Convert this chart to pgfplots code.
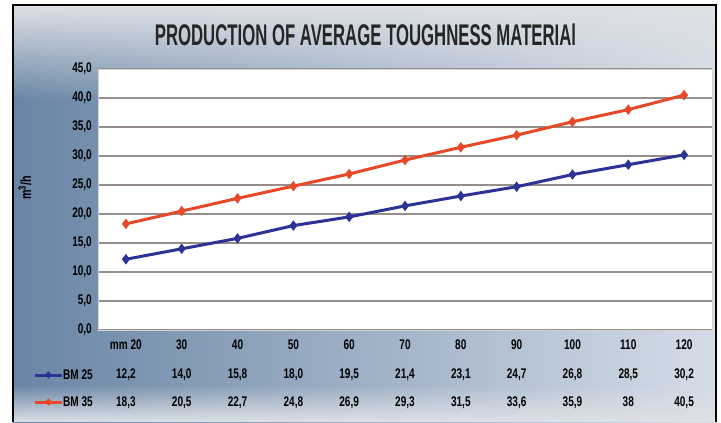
\documentclass[border=0pt]{standalone}
\usepackage{pgfplots}
\pgfplotsset{compat=1.18}
\usetikzlibrary{fadings,shapes.geometric}
\usepackage{fontspec}
\setmainfont{Liberation Sans}
\newfontfamily\tf{Liberation Sans}[FakeStretch=0.72]
\newfontfamily\ttlf{Liberation Sans}[FakeStretch=0.56]
\definecolor{bmblue}{RGB}{45,50,150}
\definecolor{bmred}{RGB}{230,72,40}
\definecolor{gridc}{RGB}{150,142,138}
\definecolor{bgl}{RGB}{105,133,165}
\definecolor{bgm}{RGB}{172,188,206}
\definecolor{bgr}{RGB}{212,220,230}
\definecolor{bgtop}{RGB}{222,225,230}
\begin{document}
\begin{tikzpicture}[x=1bp,y=1bp]
\fill[white] (-98,-92) rectangle (623,330);
\shade[left color=bgl, middle color=bgm, right color=bgr] (-85,-92) rectangle (618,325);
\fill[bgtop, path fading=south] (-85,230) rectangle (618,325);
\fill[bgtop, path fading=north] (-85,-92) rectangle (618,-55);
\draw[black, line width=1.5bp] (-85,-92) -- (-85,325) -- (618,325) -- (618,-92);
\begin{axis}[
  at={(0,0)}, anchor=south west,
  scale only axis, width=614bp, height=261bp,
  xmin=-0.5, xmax=10.5, ymin=0, ymax=45,
  ytick={0,5,...,45},
  xtick={0,1,...,10},
  xticklabels={{mm 20\\12,2\\18,3},{30\\14,0\\20,5},{40\\15,8\\22,7},{50\\18,0\\24,8},{60\\19,5\\26,9},{70\\21,4\\29,3},{80\\23,1\\31,5},{90\\24,7\\33,6},{100\\26,8\\35,9},{110\\28,5\\38},{120\\30,2\\40,5}},
  xticklabel style={align=center, font={\tf\bfseries\fontsize{14}{28.5}\selectfont}, inner sep=0pt, yshift=-10bp},
  yticklabel style={font={\tf\bfseries\fontsize{14}{15}\selectfont}, inner sep=0pt, xshift=-6bp,
    /pgf/number format/.cd, fixed, fixed zerofill, precision=1, use comma, assume math mode=true},
  tick style={draw=none},
  ymajorgrids, grid style={gridc, line width=1.3bp},
  axis background/.style={fill=white},
  axis line style={draw=gray!35},
]
\addplot[bmblue, line width=3bp, mark=diamond*, mark size=2.8bp] coordinates {(0,12.2)(1,14.0)(2,15.8)(3,18.0)(4,19.5)(5,21.4)(6,23.1)(7,24.7)(8,26.8)(9,28.5)(10,30.2)};
\addplot[bmred, line width=3bp, mark=diamond*, mark size=2.8bp] coordinates {(0,18.3)(1,20.5)(2,22.7)(3,24.8)(4,26.9)(5,29.3)(6,31.5)(7,33.6)(8,35.9)(9,38)(10,40.5)};
\end{axis}
\node[font={\ttlf\bfseries\fontsize{30}{32}\selectfont}, text=black!85] at (267.5,295) {PRODUCTION OF AVERAGE TOUGHNESS MATERIAl};
\node[rotate=90, font={\tf\bfseries\fontsize{15}{16}\selectfont}] at (-73,142) {m\textsuperscript{3}/h};
\draw[bmblue, line width=3bp] (-63,-45) -- (-36,-45);
\node[bmblue, diamond, fill, inner sep=1.8bp] at (-49.5,-45) {};
\draw[bmred, line width=3bp] (-63,-72) -- (-36,-72);
\node[bmred, diamond, fill, inner sep=1.8bp] at (-49.5,-72) {};
\node[anchor=west, inner sep=0pt, font={\tf\bfseries\fontsize{14}{15}\selectfont}] at (-35,-45) {BM 25};
\node[anchor=west, inner sep=0pt, font={\tf\bfseries\fontsize{14}{15}\selectfont}] at (-35,-72) {BM 35};
\end{tikzpicture}
\end{document}
